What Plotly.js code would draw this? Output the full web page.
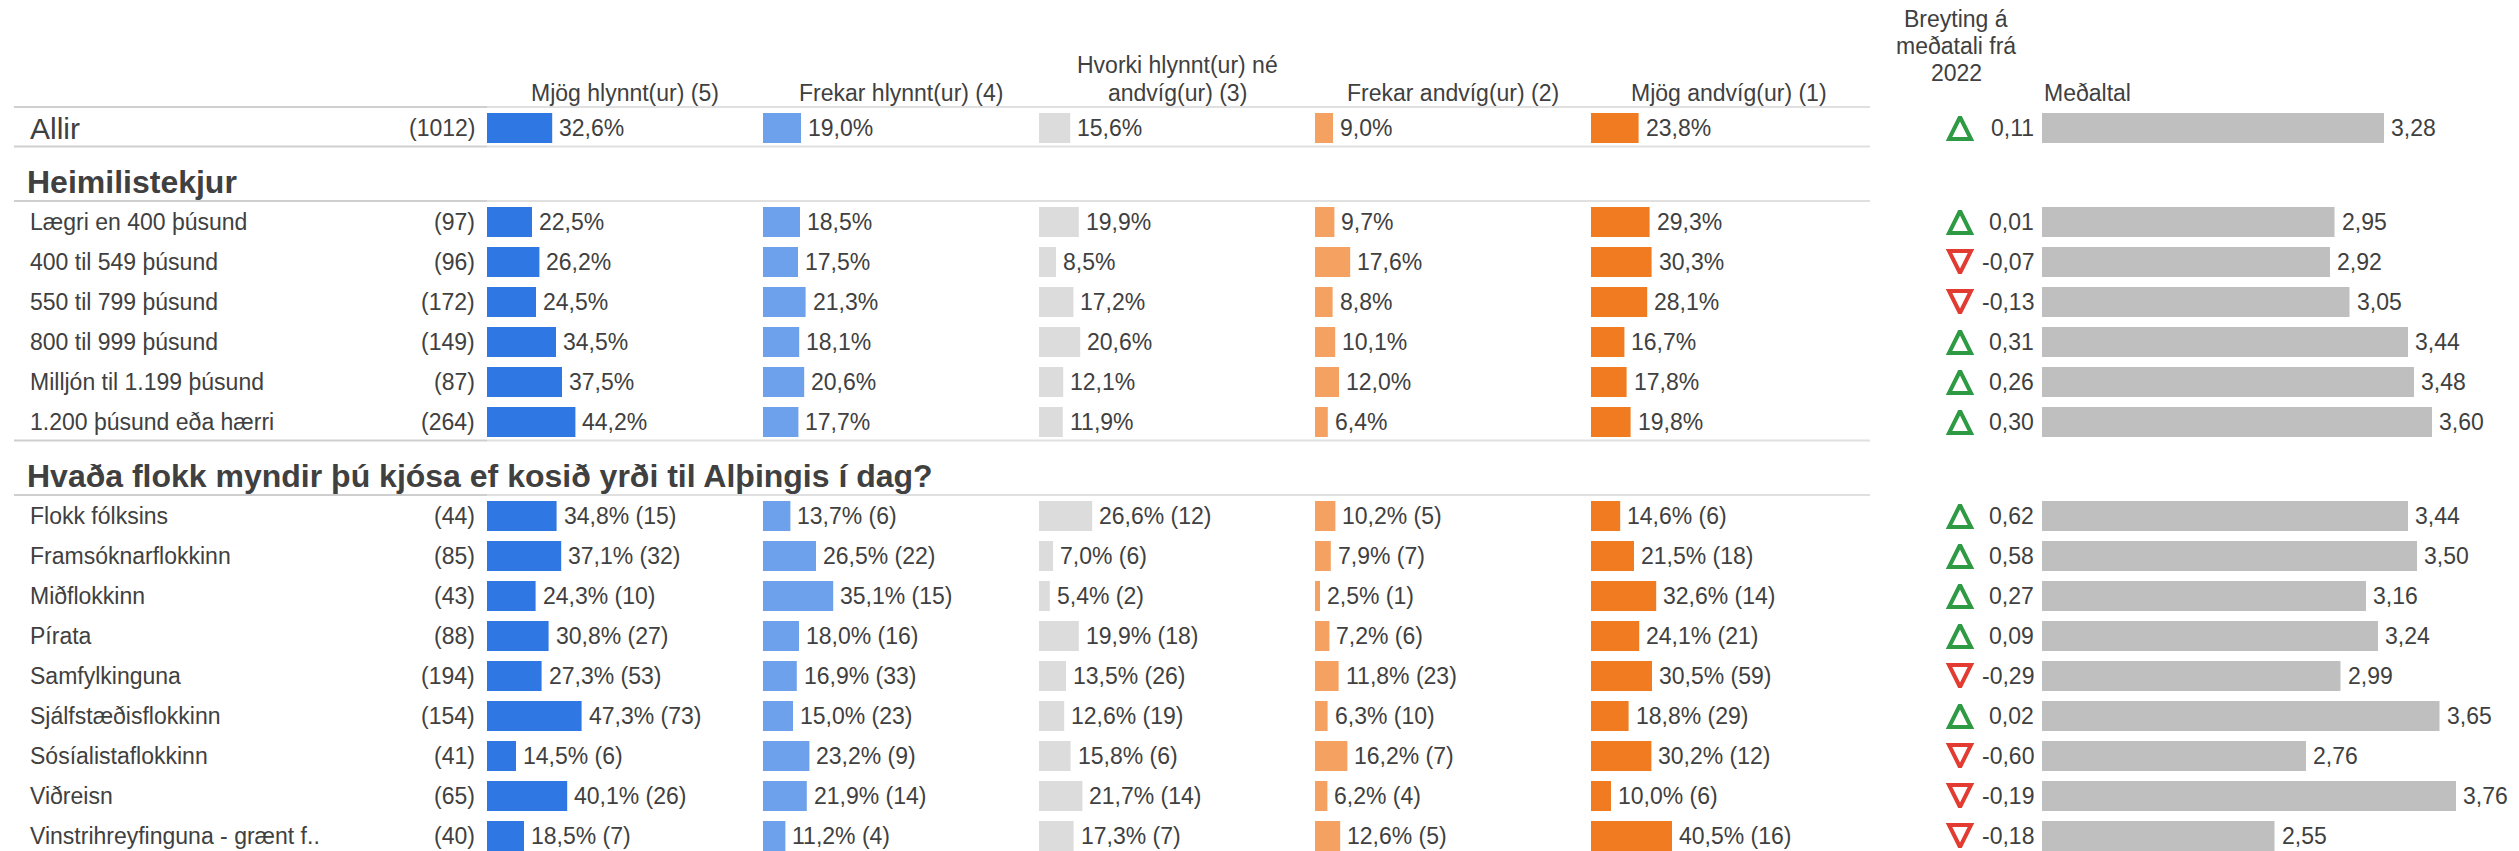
<!DOCTYPE html>
<html><head><meta charset="utf-8">
<script src="https://cdn.plot.ly/plotly-3.0.1.min.js"></script>
<style>html,body{margin:0;padding:0;background:#fff;} #chart{width:2519px;height:851px;}</style>
</head><body><div id="chart"></div>
<script>
// ------------------ DATA ------------------
const columnHeaders = [["Mjög hlynnt(ur) (5)"], ["Frekar hlynnt(ur) (4)"], ["Hvorki hlynnt(ur) né", "andvíg(ur) (3)"], ["Frekar andvíg(ur) (2)"], ["Mjög andvíg(ur) (1)"]];
const changeHeader = ["Breyting á", "meðatali frá", "2022"];
const meanHeader = "Meðaltal";

const totalLabel = "Allir";
const totalN = 1012;
const totalPct = [32.6, 19.0, 15.6, 9.0, 23.8];
const totalChange = 0.11;
const totalMean = 3.28;

const incomeTitle = "Heimilistekjur";
const incomeLabels = ["Lægri en 400 þúsund", "400 til 549 þúsund", "550 til 799 þúsund", "800 til 999 þúsund", "Milljón til 1.199 þúsund", "1.200 þúsund eða hærri"];
const incomeN = [97, 96, 172, 149, 87, 264];
const incomePct5 = [22.5, 26.2, 24.5, 34.5, 37.5, 44.2];
const incomePct4 = [18.5, 17.5, 21.3, 18.1, 20.6, 17.7];
const incomePct3 = [19.9, 8.5, 17.2, 20.6, 12.1, 11.9];
const incomePct2 = [9.7, 17.6, 8.8, 10.1, 12.0, 6.4];
const incomePct1 = [29.3, 30.3, 28.1, 16.7, 17.8, 19.8];
const incomeChange = [0.01, -0.07, -0.13, 0.31, 0.26, 0.30];
const incomeMean = [2.95, 2.92, 3.05, 3.44, 3.48, 3.60];

const partyTitle = "Hvaða flokk myndir þú kjósa ef kosið yrði til Alþingis í dag?";
const partyLabels = ["Flokk fólksins", "Framsóknarflokkinn", "Miðflokkinn", "Pírata", "Samfylkinguna", "Sjálfstæðisflokkinn", "Sósíalistaflokkinn", "Viðreisn", "Vinstrihreyfinguna - grænt f.."];
const partyN = [44, 85, 43, 88, 194, 154, 41, 65, 40];
const partyPct5 = [34.8, 37.1, 24.3, 30.8, 27.3, 47.3, 14.5, 40.1, 18.5];
const partyCnt5 = [15, 32, 10, 27, 53, 73, 6, 26, 7];
const partyPct4 = [13.7, 26.5, 35.1, 18.0, 16.9, 15.0, 23.2, 21.9, 11.2];
const partyCnt4 = [6, 22, 15, 16, 33, 23, 9, 14, 4];
const partyPct3 = [26.6, 7.0, 5.4, 19.9, 13.5, 12.6, 15.8, 21.7, 17.3];
const partyCnt3 = [12, 6, 2, 18, 26, 19, 6, 14, 7];
const partyPct2 = [10.2, 7.9, 2.5, 7.2, 11.8, 6.3, 16.2, 6.2, 12.6];
const partyCnt2 = [5, 7, 1, 6, 23, 10, 7, 4, 5];
const partyPct1 = [14.6, 21.5, 32.6, 24.1, 30.5, 18.8, 30.2, 10.0, 40.5];
const partyCnt1 = [6, 18, 14, 21, 59, 29, 12, 6, 16];
const partyChange = [0.62, 0.58, 0.27, 0.09, -0.29, 0.02, -0.60, -0.19, -0.18];
const partyMean = [3.44, 3.50, 3.16, 3.24, 2.99, 3.65, 2.76, 3.76, 2.55];

// ------------------ STYLE / LAYOUT ------------------
const W = 2519, H = 851;
const FONT = "Arial, 'Liberation Sans', sans-serif";
const TXT = "#404040";
const colColors = ["#2F78E3", "#6EA1EC", "#DCDCDC", "#F4A161", "#F07B21"];
const meanColor = "#BFBFBF";
const upColor = "#2E9A44", downColor = "#E23B32";
const colStart = 487, colStep = 276, pxPerPct = 2;
const meanStart = 2042, pxPerMean = 150, meanMin = 1;
const rowPitch = 40, barH = 30;
const labelX = 28, countRight = 477, headingX = 25, lineLeft = 14, lineRight = 1870;
const fs = 23;

const fmt = (v, d) => v.toFixed(d).replace('.', ',');

// build rows
const rows = [];
const allirY = 128;
rows.push({label: totalLabel, n: totalN, pct: totalPct, cnt: null, change: totalChange, mean: totalMean, y: allirY, big: true});
const sections = [
  {title: incomeTitle, labels: incomeLabels, n: incomeN, pct: [incomePct5, incomePct4, incomePct3, incomePct2, incomePct1], cnt: null, change: incomeChange, mean: incomeMean},
  {title: partyTitle, labels: partyLabels, n: partyN, pct: [partyPct5, partyPct4, partyPct3, partyPct2, partyPct1], cnt: [partyCnt5, partyCnt4, partyCnt3, partyCnt2, partyCnt1], change: partyChange, mean: partyMean}
];
const hLines = [allirY - 21];
const headings = [];
let cursor = allirY;
sections.forEach(sec => {
  const lineAbove = cursor + 18.5;
  const headY = lineAbove + 35;
  const lineBelow = headY + 19.5;
  const first = lineBelow + 21;
  hLines.push(lineAbove, lineBelow);
  headings.push({text: sec.title, y: headY});
  sec.labels.forEach((lab, i) => {
    rows.push({label: lab, n: sec.n[i], pct: sec.pct.map(a => a[i]), cnt: sec.cnt ? sec.cnt.map(a => a[i]) : null,
      change: sec.change[i], mean: sec.mean[i], y: first + i * rowPitch, big: false});
  });
  cursor = first + (sec.labels.length - 1) * rowPitch;
});

const ys = rows.map(r => r.y);
const traces = [];
const annotations = [];
const layout = {
  width: W, height: H, margin: {l: 0, r: 0, t: 0, b: 0},
  paper_bgcolor: "#fff", plot_bgcolor: "#fff", showlegend: false,
  font: {family: FONT, size: fs, color: TXT},
  yaxis: {range: [H, 0], domain: [0, 1], visible: false, fixedrange: true},
  shapes: [], annotations: annotations
};

// the five response columns
for (let k = 0; k < 5; k++) {
  const ax = k === 0 ? 'x' : 'x' + (k + 1);
  const axName = k === 0 ? 'xaxis' : 'xaxis' + (k + 1);
  const x0 = colStart + k * colStep;
  layout[axName] = {domain: [x0 / W, (x0 + colStep) / W], range: [0, colStep / pxPerPct], visible: false, fixedrange: true, anchor: 'y'};
  const vals = rows.map(r => r.pct[k]);
  traces.push({type: 'bar', orientation: 'h', x: vals, y: ys, width: barH, xaxis: ax, yaxis: 'y',
    marker: {color: colColors[k], line: {width: 0}}, hoverinfo: 'skip', cliponaxis: false});
  rows.forEach(r => {
    annotations.push({xref: ax, yref: 'y', x: r.pct[k], y: r.y, xanchor: 'left', yanchor: 'middle', xshift: 5,
      text: fmt(r.pct[k], 1) + '%' + (r.cnt ? ' (' + r.cnt[k] + ')' : ''), showarrow: false, font: {size: fs, color: TXT}});
  });
  const hdr = columnHeaders[k];
  hdr.forEach((line, j) => {
    const yy = 92.5 - (hdr.length - 1 - j) * 27.5;
    annotations.push({xref: 'paper', yref: 'y', x: (x0 + colStep / 2) / W, y: yy, xanchor: 'center', yanchor: 'middle',
      text: line, showarrow: false, font: {size: fs, color: TXT}});
  });
}

// mean column
layout.xaxis6 = {domain: [meanStart / W, 1], range: [meanMin, meanMin + (W - meanStart) / pxPerMean], visible: false, fixedrange: true, anchor: 'y'};
traces.push({type: 'bar', orientation: 'h', x: rows.map(r => r.mean - meanMin), base: meanMin, y: ys, width: barH, xaxis: 'x6', yaxis: 'y',
  marker: {color: meanColor, line: {width: 0}}, hoverinfo: 'skip', cliponaxis: false});
rows.forEach(r => {
  annotations.push({xref: 'x6', yref: 'y', x: r.mean, y: r.y, xanchor: 'left', yanchor: 'middle', xshift: 5,
    text: fmt(r.mean, 2), showarrow: false, font: {size: fs, color: TXT}});
});
annotations.push({xref: 'paper', yref: 'y', x: 2042 / W, y: 92.5, xanchor: 'left', yanchor: 'middle', text: meanHeader, showarrow: false, font: {size: fs, color: TXT}});

// change column (triangle markers)
layout.xaxis7 = {domain: [1940 / W, 1980 / W], range: [0, 1], visible: false, fixedrange: true, anchor: 'y'};
const triSize = 22;
traces.push({type: 'scatter', mode: 'markers', x: rows.map(() => 0.5), y: ys, xaxis: 'x7', yaxis: 'y', hoverinfo: 'skip', cliponaxis: false,
  marker: {symbol: 'arrow-down-open', size: triSize, standoff: triSize / 2,
    angle: rows.map(r => r.change >= 0 ? 180 : 0),
    color: rows.map(r => r.change >= 0 ? upColor : downColor),
    line: {width: 4, color: rows.map(r => r.change >= 0 ? upColor : downColor)}}});
rows.forEach(r => {
  annotations.push({xref: 'paper', yref: 'y', x: 2036 / W, y: r.y, xanchor: 'right', yanchor: 'middle',
    text: fmt(r.change, 2), showarrow: false, font: {size: fs, color: TXT}});
});
changeHeader.forEach((line, j) => {
  annotations.push({xref: 'paper', yref: 'y', x: 1956 / W, y: 72.5 - (changeHeader.length - 1 - j) * 27, xanchor: 'center', yanchor: 'middle',
    text: line, showarrow: false, font: {size: fs, color: TXT}});
});

// row labels and counts
rows.forEach(r => {
  annotations.push({xref: 'paper', yref: 'y', x: labelX / W, y: r.y, xanchor: 'left', yanchor: 'middle',
    text: r.label, showarrow: false, font: {size: r.big ? 30 : fs, color: TXT}});
  annotations.push({xref: 'paper', yref: 'y', x: countRight / W, y: r.y, xanchor: 'right', yanchor: 'middle',
    text: '(' + r.n + ')', showarrow: false, font: {size: fs, color: TXT}});
});
headings.forEach(h => {
  annotations.push({xref: 'paper', yref: 'y', x: headingX / W, y: h.y, xanchor: 'left', yanchor: 'middle',
    text: '<b>' + h.text + '</b>', showarrow: false, font: {size: 32, color: TXT}});
});

// separator lines
hLines.forEach(y => {
  layout.shapes.push({type: 'line', xref: 'paper', yref: 'y', x0: lineLeft / W, x1: colStart / W, y0: y, y1: y, line: {color: '#CFCFCF', width: 2}});
  layout.shapes.push({type: 'line', xref: 'paper', yref: 'y', x0: colStart / W, x1: lineRight / W, y0: y, y1: y, line: {color: '#E0E0E0', width: 2}});
});

Plotly.newPlot('chart', traces, layout, {displayModeBar: false, staticPlot: true});
</script>
</body></html>
